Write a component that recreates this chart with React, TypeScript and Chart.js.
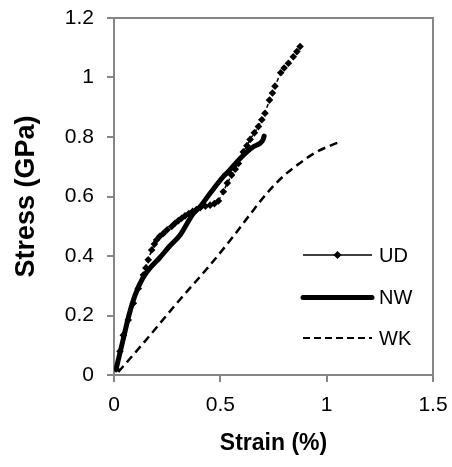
import React, { useEffect, useRef } from "react";
import { Chart, registerables } from "chart.js";

Chart.register(...registerables);

const xTicks = [0, 0.5, 1, 1.5];
const yTicks = [0, 0.2, 0.4, 0.6, 0.8, 1, 1.2];

const udStrain = [0.01, 0.028, 0.044, 0.067, 0.091, 0.114, 0.138, 0.15, 0.161, 0.177, 0.19, 0.2, 0.215, 0.232, 0.25, 0.271, 0.287, 0.303, 0.318, 0.334, 0.352, 0.37, 0.388, 0.405, 0.43, 0.452, 0.472, 0.491, 0.514, 0.533, 0.553, 0.57, 0.585, 0.608, 0.625, 0.64, 0.66, 0.679, 0.695, 0.71, 0.731, 0.745, 0.757, 0.784, 0.8, 0.82, 0.843, 0.86, 0.875];
const udStress = [0.02, 0.08, 0.134, 0.185, 0.241, 0.291, 0.336, 0.36, 0.387, 0.42, 0.44, 0.454, 0.466, 0.476, 0.488, 0.499, 0.51, 0.519, 0.527, 0.535, 0.543, 0.55, 0.556, 0.562, 0.567, 0.571, 0.576, 0.585, 0.616, 0.645, 0.672, 0.692, 0.711, 0.75, 0.771, 0.792, 0.814, 0.835, 0.858, 0.88, 0.924, 0.948, 0.971, 1.016, 1.032, 1.048, 1.07, 1.087, 1.104];

const nwStrain = [0.01, 0.04, 0.07, 0.1, 0.135, 0.17, 0.216, 0.26, 0.31, 0.373, 0.405, 0.452, 0.514, 0.53, 0.593, 0.655, 0.687, 0.7, 0.706];
const nwStress = [0.02, 0.11, 0.2, 0.27, 0.325, 0.36, 0.395, 0.432, 0.47, 0.543, 0.566, 0.611, 0.667, 0.678, 0.728, 0.767, 0.779, 0.79, 0.803];

const wkStrain = [0.02, 0.138, 0.295, 0.452, 0.561, 0.64, 0.718, 0.796, 0.875, 0.953, 1.063];
const wkStress = [0.01, 0.107, 0.241, 0.37, 0.466, 0.54, 0.61, 0.668, 0.713, 0.75, 0.784];

const seriesNames = ["UD", "NW", "WK"];

const toPts = (xs: number[], ys: number[]) => xs.map((x, i) => ({ x, y: ys[i] }));

const AXIS_COLOR = "#868686";
const FONT = "'Liberation Sans', Arial, sans-serif";

const zeroPad = (s: any) => {
  s.paddingTop = 0;
  s.paddingBottom = 0;
  s.paddingLeft = 0;
  s.paddingRight = 0;
};

const frameAndLegend = {
  id: "frameAndLegend",
  afterDraw(chart: any) {
    const { ctx, chartArea } = chart;
    const { left, top, right, bottom } = chartArea;
    ctx.save();
    ctx.strokeStyle = AXIS_COLOR;
    ctx.lineWidth = 2;
    ctx.beginPath();
    ctx.moveTo(left, top);
    ctx.lineTo(right, top);
    ctx.lineTo(right, bottom);
    ctx.stroke();

    // legend
    const lx0 = left + 189;
    const lx1 = left + 258;
    const tx = left + 265;
    const rows = [top + 237, top + 279.5, top + 320];
    ctx.font = `20px ${FONT}`;
    ctx.fillStyle = "#000";
    ctx.textBaseline = "middle";
    ctx.textAlign = "left";
    rows.forEach((y, i) => {
      ctx.strokeStyle = "#000";
      ctx.setLineDash([]);
      if (i === 0) {
        ctx.lineWidth = 1.5;
        ctx.beginPath();
        ctx.moveTo(lx0, y);
        ctx.lineTo(lx1, y);
        ctx.stroke();
        const cx = (lx0 + lx1) / 2;
        ctx.beginPath();
        ctx.moveTo(cx, y - 4);
        ctx.lineTo(cx + 4, y);
        ctx.lineTo(cx, y + 4);
        ctx.lineTo(cx - 4, y);
        ctx.closePath();
        ctx.fill();
      } else if (i === 1) {
        ctx.lineWidth = 5;
        ctx.lineCap = "round";
        ctx.beginPath();
        ctx.moveTo(lx0, y);
        ctx.lineTo(lx1, y);
        ctx.stroke();
        ctx.lineCap = "butt";
      } else {
        ctx.lineWidth = 2;
        ctx.setLineDash([7, 4]);
        ctx.beginPath();
        ctx.moveTo(lx0, y);
        ctx.lineTo(lx1, y);
        ctx.stroke();
        ctx.setLineDash([]);
      }
      ctx.fillText(seriesNames[i], tx, y + 1);
    });
    ctx.restore();
  },
};

export default function App() {
  const ref = useRef<HTMLCanvasElement | null>(null);
  useEffect(() => {
    if (!ref.current) return;
    const chart = new Chart(ref.current, {
      type: "scatter",
      data: {
        datasets: [
          {
            label: seriesNames[2],
            data: toPts(wkStrain, wkStress),
            showLine: true,
            borderColor: "#000",
            borderWidth: 2.5,
            borderDash: [8, 5],
            pointRadius: 0,
            cubicInterpolationMode: "monotone",
          },
          {
            label: seriesNames[1],
            data: toPts(nwStrain, nwStress),
            showLine: true,
            borderColor: "#000",
            borderWidth: 5,
            pointRadius: 0,
            cubicInterpolationMode: "monotone",
            borderCapStyle: "round",
            borderJoinStyle: "round",
          },
          {
            label: seriesNames[0],
            data: toPts(udStrain, udStress),
            showLine: true,
            borderColor: "#000",
            backgroundColor: "#000",
            borderWidth: 1.5,
            borderDash: [4, 3],
            pointStyle: "rectRot",
            pointRadius: 3.8,
            pointBorderWidth: 0,
            pointBackgroundColor: "#000",
          },
        ],
      },
      options: {
        animation: false,
        responsive: false,
        layout: { padding: { top: 18, right: 19, left: 0, bottom: 0 } },
        plugins: { legend: { display: false }, tooltip: { enabled: false } },
        scales: {
          x: {
            type: "linear",
            min: 0,
            max: 1.5,
            afterBuildTicks: (s: any) => {
              s.ticks = xTicks.map((v) => ({ value: v }));
            },
            afterFit: (s: any) => {
              s.height = 92;
              zeroPad(s);
            },
            grid: { drawOnChartArea: false, drawTicks: true, tickLength: 7, color: AXIS_COLOR, lineWidth: 2 },
            border: { color: AXIS_COLOR, width: 2 },
            ticks: {
              color: "#000",
              font: { family: FONT, size: 21 },
              padding: 11,
              maxRotation: 0,
              callback: (v: any) => `${v}`,
            },
            title: {
              display: true,
              text: "Strain (%)",
              color: "#000",
              font: { family: FONT, size: 23, weight: "bold" },
              padding: { top: 0, bottom: 10 },
            },
          },
          y: {
            type: "linear",
            min: 0,
            max: 1.2,
            afterBuildTicks: (s: any) => {
              s.ticks = yTicks.map((v) => ({ value: v }));
            },
            afterFit: (s: any) => {
              s.width = 114;
              zeroPad(s);
            },
            grid: { drawOnChartArea: false, drawTicks: true, tickLength: 7, color: AXIS_COLOR, lineWidth: 2 },
            border: { color: AXIS_COLOR, width: 2 },
            ticks: {
              color: "#000",
              font: { family: FONT, size: 21 },
              padding: 13,
              callback: (v: any) => `${v}`,
            },
            title: {
              display: true,
              text: "Stress (GPa)",
              color: "#000",
              font: { family: FONT, size: 27, weight: "bold" },
              padding: { top: 10, bottom: 0 },
            },
          },
        },
      },
      plugins: [frameAndLegend],
    });
    return () => chart.destroy();
  }, []);
  return (
    <canvas
      ref={ref}
      width={452}
      height={467}
      style={{ position: "fixed", left: 0, top: 0, width: 452, height: 467, background: "#fff" }}
    />
  );
}
